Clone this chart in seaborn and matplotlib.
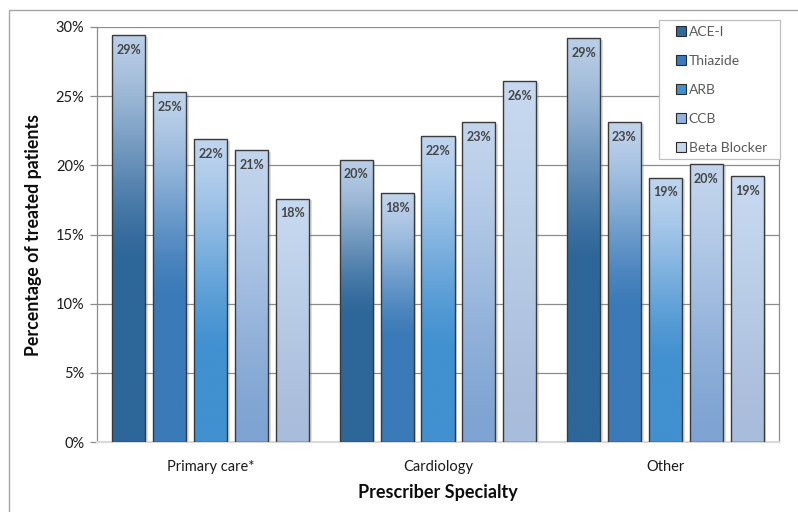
import numpy as np
import pandas as pd
import matplotlib
matplotlib.use("Agg")
import matplotlib.pyplot as plt
import matplotlib.colors as mcolors
from matplotlib.patches import Patch, Rectangle
from matplotlib.ticker import FuncFormatter
import seaborn as sns

# ---- data -------------------------------------------------------------
specialties = ["Primary care*", "Cardiology", "Other"]
drug_classes = ["ACE-I", "Thiazide", "ARB", "CCB", "Beta Blocker"]
ace_i = [29.4, 20.4, 29.2]
thiazide = [25.3, 18.0, 23.1]
arb = [21.9, 22.1, 19.1]
ccb = [21.1, 23.1, 20.1]
beta_blocker = [17.6, 26.1, 19.2]
y_ticks = [0, 5, 10, 15, 20, 25, 30]

series = {"ACE-I": ace_i, "Thiazide": thiazide, "ARB": arb,
          "CCB": ccb, "Beta Blocker": beta_blocker}
df = pd.DataFrame([
    {"specialty": s, "drug": d, "pct": series[d][i]}
    for i, s in enumerate(specialties) for d in drug_classes
])

# ---- styling ----------------------------------------------------------
base_colors = ["#2D6699", "#3A7AB8", "#4190D0", "#7FA4D3", "#A8BCDB"]
top_colors = ["#BACEE7", "#C0D3EB", "#BFD5EF", "#C3D5ED", "#C6D9F0"]
gradient_stop = [0.55, 0.58, 0.7, 0.95, 1.0]
legend_colors = ["#2E6AA0", "#3A7BBF", "#4290D0", "#92B3DB", "#C3D6EE"]

sns.set_theme(style="white")
plt.rcParams["font.family"] = ["Lato", "DejaVu Sans"]

fig = plt.figure(figsize=(7.98, 5.12), dpi=100)
ax = fig.add_axes([97 / 798, 1 - 442 / 512, (779 - 97) / 798, (442 - 27) / 512])

sns.barplot(data=df, x="specialty", y="pct", hue="drug", order=specialties,
            hue_order=drug_classes, palette=base_colors, width=0.9, gap=0.19,
            edgecolor="#3A3A3A", linewidth=1.0, legend=False, ax=ax, zorder=3)

ax.set_xlim(-0.5, 2.5)
ax.set_ylim(0, 30)

# gradient fill, drop shadow and value label for every bar
for k, container in enumerate(ax.containers):
    c_top = np.array(mcolors.to_rgb(top_colors[k]))
    c_base = np.array(mcolors.to_rgb(base_colors[k]))
    for bar in container:
        x0, w, h = bar.get_x(), bar.get_width(), bar.get_height()
        t = np.linspace(0, 1, 256)  # 0 at top, 1 at bottom
        f = np.clip(t / gradient_stop[k], 0, 1)
        f = f * f * (3 - 2 * f) * 0.5 + f * 0.5
        grad = c_top[None, :] * (1 - f[:, None]) + c_base[None, :] * f[:, None]
        img = grad[:, None, :]
        shadow = Rectangle((x0 + 0.012, 0), w, h - 0.12, facecolor="#7F7F7F",
                           alpha=0.25, edgecolor="none", zorder=2)
        ax.add_patch(shadow)
        im = ax.imshow(img, extent=[x0, x0 + w, 0, h], aspect="auto",
                       origin="upper", zorder=3.5, interpolation="bilinear")
        im.set_clip_path(bar)
        bar.set_facecolor("none")
        bar.set_zorder(4)
        ax.annotate(f"{h:.0f}%", (x0 + w / 2, h), xytext=(0, -10.5),
                    textcoords="offset points", ha="center", va="center",
                    fontsize=9, fontweight="bold", color="#454545", zorder=5)

ax.set_xlim(-0.5, 2.5)
ax.set_ylim(0, 30)

# axes, grid and ticks
ax.set_yticks(y_ticks)
ax.yaxis.set_major_formatter(FuncFormatter(lambda v, p: f"{v:.0f}%"))
ax.grid(axis="y", color="#8C8C8C", linewidth=0.9, zorder=0)
ax.set_axisbelow(True)
for side in ["left", "right"]:
    ax.spines[side].set_color("#8C8C8C")
    ax.spines[side].set_linewidth(0.9)
ax.spines["top"].set_visible(False)
ax.spines["bottom"].set_color("#D9D9D9")
ax.spines["bottom"].set_linewidth(1.5)
ax.tick_params(axis="y", which="major", left=True, length=5, width=0.9,
               color="#8C8C8C", direction="out", pad=4, labelsize=10.5,
               labelcolor="#1A1A1A")
ax.tick_params(axis="x", bottom=False, pad=7, labelsize=10.5,
               labelcolor="#1A1A1A")

ax.set_xlabel("Prescriber Specialty", fontsize=13, fontweight="bold",
              color="#0D0D0D", labelpad=7)
ax.set_ylabel("Percentage of treated patients", fontsize=12.8,
              fontweight="bold", color="#0D0D0D", labelpad=10)

# legend: white box drawn separately so its padding can be set freely
box = Rectangle(((659 - 97) / 682, (442 - 159) / 415), 121 / 682, 139 / 415,
                transform=ax.transAxes, facecolor="white", edgecolor="#BFBFBF",
                linewidth=0.9, zorder=9, clip_on=False)
ax.add_patch(box)
handles = [Patch(facecolor=legend_colors[i], edgecolor="#2B2B2B", linewidth=0.8)
           for i in range(len(drug_classes))]
leg = ax.legend(handles, drug_classes, loc="upper left",
                bbox_to_anchor=((676 - 97) / 682, (442 - 26) / 415),
                frameon=False, fontsize=10, labelspacing=1.22,
                handlelength=0.72, handleheight=0.72, handletextpad=0.2,
                borderpad=0.0, borderaxespad=0.0)
leg.set_zorder(10)
for txt in leg.get_texts():
    txt.set_color("#595959")

# outer chart frame
fig.patches.append(Rectangle((9 / 798, -0.1), 1.2, (512 - 10) / 512 + 0.1,
                             transform=fig.transFigure, fill=False,
                             edgecolor="#A6A6A6", linewidth=1.0))

fig.savefig("out.png", dpi=100)
